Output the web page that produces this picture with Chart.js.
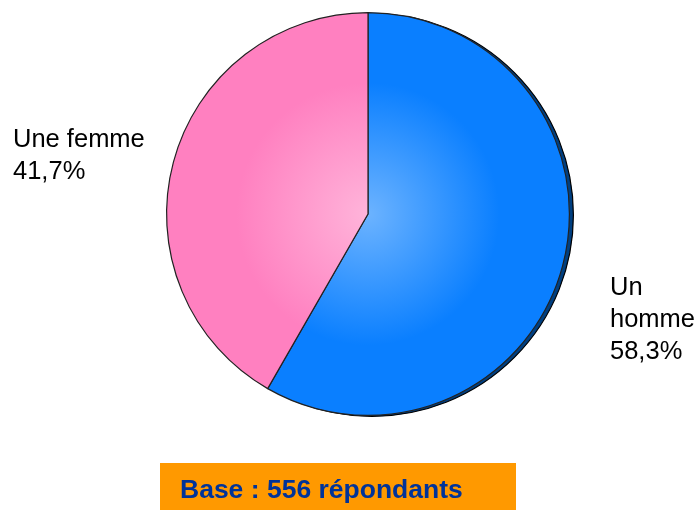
<!DOCTYPE html>
<html lang="fr">
<head>
    <meta charset="UTF-8">
    <title>Répartition par sexe</title>
    <script src="https://cdn.jsdelivr.net/npm/chart.js"></script>
    <style>
        body {
            margin: 0;
            background: #fff;
            font-family: "Liberation Sans", Arial, sans-serif;
        }
        .wrap {
            position: relative;
            width: 697px;
            height: 510px;
        }
        .base {
            position: absolute;
            left: 160px;
            top: 463px;
            width: 356px;
            height: 47px;
            background: #ff9900;
        }
    </style>
</head>
<body>
    <div class="wrap">
        <div class="base"></div>
        <canvas id="pie" width="697" height="510" style="position:absolute;left:0;top:0"></canvas>
    </div>

    <script>
        // data
        const categories = ['Un homme', 'Une femme'];
        const values = [58.3, 41.7];
        const labelLines = [['Un', 'homme', '58,3%'], ['Une femme', '41,7%']];
        const baseText = 'Base : 556 répondants';

        // gradient colours (centre, edge) per slice
        const colours = [['#6cb3ff', '#0a7fff'], ['#ffb4da', '#ff80c0']];

        function sliceFill(ctx) {
            const chart = ctx.chart;
            const area = chart.chartArea;
            if (!area) return colours[ctx.dataIndex][1];
            const cx = (area.left + area.right) / 2;
            const cy = (area.top + area.bottom) / 2;
            const r = Math.min(area.right - area.left, area.bottom - area.top) / 2;
            const g = chart.ctx.createRadialGradient(cx, cy, 0, cx, cy, r);
            g.addColorStop(0, colours[ctx.dataIndex][0]);
            g.addColorStop(0.65, colours[ctx.dataIndex][1]);
            g.addColorStop(1, colours[ctx.dataIndex][1]);
            return g;
        }

        // dark rim behind the pie, offset to the right
        const rimPlugin = {
            id: 'rim',
            beforeDatasetsDraw(chart) {
                const arc = chart.getDatasetMeta(0).data[0];
                if (!arc) return;
                const c = chart.ctx;
                c.save();
                c.beginPath();
                c.arc(arc.x + 4, arc.y + 1, arc.outerRadius, 0, Math.PI * 2);
                c.fillStyle = '#003f80';
                c.fill();
                c.lineWidth = 1.2;
                c.strokeStyle = '#000';
                c.stroke();
                c.restore();
            }
        };

        // outside labels and the base caption
        const labelPlugin = {
            id: 'outsideLabels',
            afterDraw(chart) {
                const c = chart.ctx;
                c.save();
                c.font = '25.5px "Liberation Sans", Arial, sans-serif';
                c.fillStyle = '#000';
                c.textBaseline = 'alphabetic';
                const spots = [{ x: 610, y: 295, step: 32 }, { x: 13, y: 147, step: 32 }];
                labelLines.forEach((lines, i) => {
                    lines.forEach((t, j) => {
                        c.fillText(t, spots[i].x, spots[i].y + j * spots[i].step);
                    });
                });
                c.font = 'bold 26.5px "Liberation Sans", Arial, sans-serif';
                c.fillStyle = '#003399';
                c.fillText(baseText, 180, 498);
                c.restore();
            }
        };

        new Chart(document.getElementById('pie'), {
            type: 'pie',
            data: {
                labels: categories,
                datasets: [{
                    data: values,
                    backgroundColor: sliceFill,
                    borderColor: '#222',
                    borderWidth: 1.2
                }]
            },
            options: {
                responsive: false,
                animation: false,
                layout: {
                    padding: { left: 166, right: 127, top: 12, bottom: 94 }
                },
                plugins: {
                    legend: { display: false },
                    tooltip: { enabled: false }
                }
            },
            plugins: [rimPlugin, labelPlugin]
        });
    </script>
</body>
</html>
